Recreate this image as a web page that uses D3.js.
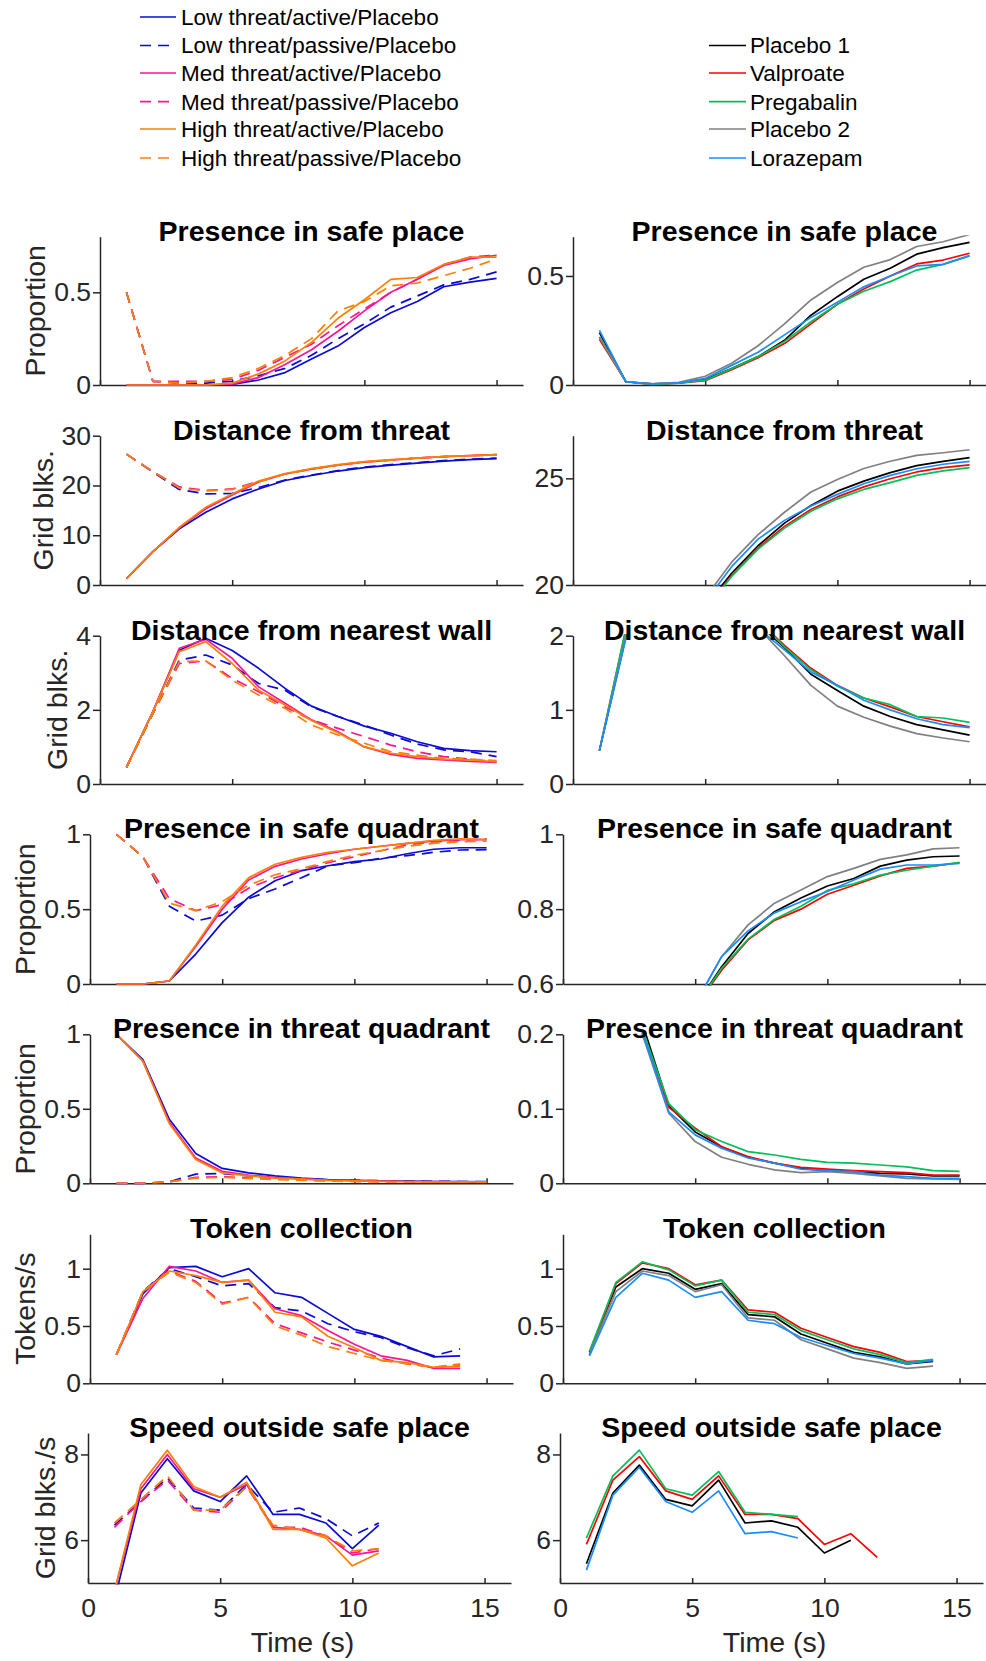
<!DOCTYPE html>
<html lang="en">
<head>
<meta charset="utf-8">
<title>Threat task behaviour by condition and drug</title>
<script src="https://d3js.org/d3.v7.min.js"></script>
<style>
  body { margin: 0; background: #fff; }
  text { font-family: "Liberation Sans", Arial, Helvetica, sans-serif; }
</style>
</head>
<body>
<script>

// ---- data ----
var timeS = [1, 2, 3, 4, 5, 6, 7, 8, 9, 10, 11, 12, 13, 14, 15];
var xTicks = [0, 5, 10, 15];

var threatSeries = ["Low threat/active/Placebo", "Low threat/passive/Placebo",
  "Med threat/active/Placebo", "Med threat/passive/Placebo",
  "High threat/active/Placebo", "High threat/passive/Placebo"];
var drugSeries = ["Placebo 1", "Valproate", "Pregabalin", "Placebo 2", "Lorazepam"];

var panelTitles = ["Presence in safe place", "Distance from threat", "Distance from nearest wall",
  "Presence in safe quadrant", "Presence in threat quadrant", "Token collection", "Speed outside safe place"];
var yLabels = ["Proportion", "Grid blks.", "Grid blks.", "Proportion", "Proportion", "Tokens/s", "Grid blks./s"];

var yDomainThreat = [[0, 0.8], [0, 30], [0, 4], [0, 1], [0, 1], [0, 1.3], [5, 8.5]];
var yDomainDrug = [[0, 0.68], [20, 27], [0, 2], [0.6, 1], [0, 0.2], [0, 1.3], [5, 8.5]];
var yTicksThreat = [[0, 0.5], [0, 10, 20, 30], [0, 2, 4], [0, 0.5, 1], [0, 0.5, 1], [0, 0.5, 1], [6, 8]];
var yTicksDrug = [[0, 0.5], [20, 25], [0, 1, 2], [0.6, 0.8, 1], [0, 0.1, 0.2], [0, 0.5, 1], [6, 8]];

// left column: rows follow threatSeries order
var safePlaceThreat = [
  [0, 0, 0, 0, 0.003, 0.027, 0.067, 0.14, 0.21, 0.31, 0.39, 0.45, 0.53, 0.555, 0.575],
  [0.5, 0.02, 0.01, 0.01, 0.02, 0.05, 0.09, 0.16, 0.25, 0.33, 0.42, 0.48, 0.54, 0.57, 0.61],
  [0, 0, 0, 0, 0.005, 0.04, 0.11, 0.19, 0.29, 0.4, 0.5, 0.57, 0.645, 0.68, 0.70],
  [0.5, 0.02, 0.02, 0.02, 0.03, 0.08, 0.15, 0.22, 0.32, 0.41, 0.5, 0.57, 0.65, 0.69, 0.70],
  [0, 0, 0, 0, 0.01, 0.06, 0.13, 0.23, 0.36, 0.46, 0.57, 0.58, 0.65, 0.69, 0.69],
  [0.5, 0.02, 0.01, 0.02, 0.04, 0.09, 0.16, 0.25, 0.4, 0.45, 0.535, 0.55, 0.59, 0.63, 0.68]
];
var distThreatThreat = [
  [1.3, 6.7, 11.3, 14.6, 17.3, 19.3, 21.0, 22.0, 22.9, 23.6, 24.1, 24.5, 24.9, 25.2, 25.4],
  [26.3, 22.7, 19.2, 18.3, 18.4, 19.6, 21.1, 22.1, 23.0, 23.7, 24.2, 24.6, 25.0, 25.3, 25.5],
  [1.3, 6.7, 11.5, 15.3, 18.1, 20.7, 22.3, 23.3, 24.1, 24.7, 25.1, 25.5, 25.8, 26.0, 26.2],
  [26.3, 22.8, 19.7, 19.0, 19.3, 20.8, 22.3, 23.3, 24.1, 24.7, 25.1, 25.5, 25.8, 26.0, 26.2],
  [1.3, 6.7, 11.6, 15.6, 18.3, 20.9, 22.4, 23.4, 24.2, 24.8, 25.2, 25.5, 25.8, 26.0, 26.2],
  [26.3, 22.8, 19.5, 18.9, 19.2, 20.7, 22.3, 23.3, 24.1, 24.7, 25.1, 25.5, 25.8, 26.0, 26.1]
];
var wallThreat = [
  [0.45, 1.95, 3.61, 3.93, 3.6, 3.12, 2.58, 2.1, 1.82, 1.56, 1.37, 1.14, 0.96, 0.9, 0.87],
  [0.45, 1.9, 3.34, 3.48, 3.21, 2.71, 2.53, 2.08, 1.82, 1.59, 1.32, 1.08, 0.92, 0.87, 0.74],
  [0.45, 1.95, 3.66, 3.9, 3.39, 2.62, 2.18, 1.73, 1.41, 1.0, 0.8, 0.69, 0.65, 0.61, 0.58],
  [0.45, 1.9, 3.25, 3.32, 2.85, 2.49, 2.08, 1.73, 1.5, 1.28, 1.05, 0.87, 0.74, 0.67, 0.6],
  [0.45, 1.95, 3.57, 3.84, 3.25, 2.53, 2.13, 1.71, 1.38, 1.0, 0.83, 0.74, 0.67, 0.65, 0.6],
  [0.45, 1.9, 3.3, 3.32, 2.8, 2.4, 2.04, 1.59, 1.32, 1.1, 0.87, 0.78, 0.69, 0.67, 0.63]
];
var safeQuadThreat = [
  [0, 0, 0.02, 0.2, 0.41, 0.58, 0.69, 0.757, 0.79, 0.817, 0.835, 0.87, 0.9, 0.91, 0.91],
  [1, 0.85, 0.52, 0.42, 0.46, 0.57, 0.635, 0.71, 0.79, 0.81, 0.84, 0.857, 0.88, 0.895, 0.897],
  [0, 0, 0.02, 0.25, 0.5, 0.695, 0.786, 0.835, 0.87, 0.9, 0.92, 0.94, 0.955, 0.965, 0.965],
  [1, 0.85, 0.57, 0.49, 0.53, 0.64, 0.71, 0.76, 0.81, 0.85, 0.89, 0.93, 0.95, 0.96, 0.97],
  [0, 0, 0.02, 0.26, 0.52, 0.71, 0.8, 0.846, 0.88, 0.9, 0.92, 0.94, 0.96, 0.97, 0.965],
  [1, 0.85, 0.54, 0.49, 0.55, 0.66, 0.73, 0.77, 0.82, 0.86, 0.89, 0.92, 0.94, 0.95, 0.955]
];
var threatQuadThreat = [
  [1, 0.83, 0.43, 0.2, 0.1, 0.07, 0.05, 0.035, 0.025, 0.02, 0.017, 0.014, 0.012, 0.011, 0.01],
  [0, 0, 0.01, 0.062, 0.066, 0.05, 0.04, 0.03, 0.024, 0.02, 0.017, 0.015, 0.013, 0.012, 0.011],
  [1, 0.82, 0.41, 0.17, 0.08, 0.055, 0.04, 0.03, 0.022, 0.018, 0.015, 0.012, 0.011, 0.01, 0.01],
  [0, 0, 0.01, 0.04, 0.045, 0.035, 0.03, 0.022, 0.017, 0.013, 0.011, 0.01, 0.009, 0.009, 0.009],
  [1, 0.82, 0.4, 0.16, 0.07, 0.05, 0.035, 0.028, 0.02, 0.016, 0.013, 0.011, 0.01, 0.01, 0.009],
  [0, 0, 0.01, 0.035, 0.04, 0.032, 0.026, 0.02, 0.015, 0.012, 0.01, 0.009, 0.008, 0.008, 0.008]
];
var tokensThreat = [
  [0.25, 0.78, 1.01, 1.02, 0.93, 1.0, 0.79, 0.75, 0.61, 0.47, 0.41, 0.32, 0.23, 0.24],
  [0.25, 0.8, 1.0, 0.93, 0.85, 0.87, 0.66, 0.63, 0.52, 0.45, 0.4, 0.31, 0.24, 0.3],
  [0.25, 0.74, 1.02, 0.98, 0.88, 0.9, 0.65, 0.59, 0.46, 0.34, 0.24, 0.2, 0.13, 0.13],
  [0.25, 0.8, 0.98, 0.89, 0.7, 0.75, 0.52, 0.44, 0.36, 0.29, 0.22, 0.17, 0.14, 0.16],
  [0.25, 0.8, 0.98, 0.94, 0.88, 0.9, 0.62, 0.58, 0.41, 0.31, 0.2, 0.18, 0.14, 0.15],
  [0.25, 0.8, 0.97, 0.88, 0.69, 0.75, 0.5, 0.42, 0.32, 0.26, 0.2, 0.17, 0.14, 0.17]
];
var speedThreat = [
  [4.6, 7.1, 7.9, 7.15, 6.9, 7.5, 6.6, 6.6, 6.4, 5.8, 6.35],
  [6.35, 6.9, 7.45, 6.75, 6.7, 7.3, 6.65, 6.75, 6.5, 6.1, 6.4],
  [4.8, 7.2, 8.0, 7.2, 7.0, 7.3, 6.3, 6.25, 6.1, 5.65, 5.75],
  [6.3, 6.9, 7.4, 6.7, 6.65, 7.25, 6.3, 6.3, 6.1, 5.7, 5.8],
  [4.8, 7.3, 8.1, 7.25, 7.0, 7.35, 6.25, 6.25, 6.05, 5.4, 5.7],
  [6.4, 6.95, 7.5, 6.7, 6.7, 7.25, 6.35, 6.25, 6.1, 5.75, 5.8]
];

// right column: rows follow drugSeries order
var safePlaceDrug = [
  [0.24, 0.015, 0.005, 0.01, 0.025, 0.075, 0.13, 0.205, 0.32, 0.405, 0.485, 0.535, 0.6, 0.63, 0.654],
  [0.21, 0.015, 0.003, 0.008, 0.02, 0.07, 0.125, 0.19, 0.28, 0.37, 0.44, 0.5, 0.555, 0.573, 0.604],
  [0.22, 0.015, 0.003, 0.008, 0.022, 0.075, 0.13, 0.2, 0.29, 0.37, 0.43, 0.474, 0.527, 0.553, 0.592],
  [0.22, 0.015, 0.005, 0.012, 0.04, 0.1, 0.18, 0.28, 0.39, 0.47, 0.54, 0.575, 0.635, 0.657, 0.69],
  [0.25, 0.015, 0.005, 0.01, 0.03, 0.09, 0.15, 0.23, 0.31, 0.38, 0.45, 0.5, 0.546, 0.553, 0.593]
];
var distThreatDrug = [
  [13.6, 14.6, 15.4, 16.9, 19.0, 20.55, 21.84, 22.9, 23.73, 24.4, 24.87, 25.27, 25.6, 25.8, 25.97],
  [13.4, 14.5, 15.2, 16.8, 18.9, 20.44, 21.73, 22.75, 23.54, 24.13, 24.6, 24.98, 25.3, 25.5, 25.63],
  [13.4, 14.4, 15.2, 16.7, 18.85, 20.4, 21.68, 22.67, 23.46, 24.04, 24.48, 24.8, 25.14, 25.35, 25.5],
  [13.8, 14.8, 15.6, 17.2, 19.4, 21.07, 22.36, 23.41, 24.36, 24.95, 25.46, 25.8, 26.08, 26.2, 26.34],
  [13.7, 14.7, 15.5, 17.1, 19.2, 20.86, 22.15, 23.03, 23.7, 24.25, 24.75, 25.14, 25.45, 25.66, 25.8]
];
var wallDrug = [
  [0.45, 1.99, 3.5, 3.8, 3.3, 2.7, 2.16, 1.84, 1.48, 1.26, 1.05, 0.91, 0.8, 0.73, 0.66],
  [0.45, 2.08, 3.6, 3.9, 3.4, 2.8, 2.2, 1.87, 1.56, 1.33, 1.16, 1.04, 0.91, 0.84, 0.77],
  [0.45, 2.1, 3.6, 3.9, 3.4, 2.8, 2.2, 1.85, 1.54, 1.32, 1.16, 1.07, 0.91, 0.89, 0.83],
  [0.45, 2.02, 3.5, 3.7, 3.2, 2.6, 2.11, 1.73, 1.33, 1.05, 0.9, 0.78, 0.68, 0.62, 0.57],
  [0.45, 1.96, 3.5, 3.8, 3.3, 2.7, 2.1, 1.81, 1.51, 1.33, 1.13, 1.0, 0.88, 0.8, 0.76]
];
var safeQuadDrug = [
  [0.5, 0.43, 0.29, 0.36, 0.54, 0.646, 0.735, 0.793, 0.83, 0.862, 0.882, 0.915, 0.931, 0.94, 0.942],
  [0.5, 0.43, 0.29, 0.36, 0.538, 0.637, 0.718, 0.77, 0.8, 0.84, 0.864, 0.889, 0.909, 0.915, 0.924],
  [0.5, 0.43, 0.29, 0.36, 0.54, 0.642, 0.72, 0.773, 0.808, 0.85, 0.868, 0.891, 0.904, 0.915, 0.925],
  [0.5, 0.43, 0.29, 0.37, 0.547, 0.673, 0.758, 0.816, 0.851, 0.887, 0.909, 0.933, 0.945, 0.961, 0.964],
  [0.5, 0.43, 0.29, 0.37, 0.547, 0.673, 0.742, 0.79, 0.82, 0.847, 0.878, 0.907, 0.918, 0.918, 0.922]
];
var threatQuadDrug = [
  [0.5, 0.41, 0.215, 0.104, 0.069, 0.049, 0.035, 0.027, 0.02, 0.017, 0.0157, 0.0134, 0.0125, 0.01, 0.01],
  [0.5, 0.41, 0.205, 0.102, 0.074, 0.049, 0.036, 0.027, 0.0215, 0.019, 0.017, 0.0157, 0.0143, 0.011, 0.011],
  [0.5, 0.41, 0.207, 0.107, 0.072, 0.056, 0.0425, 0.038, 0.032, 0.028, 0.027, 0.0246, 0.022, 0.017, 0.016],
  [0.5, 0.41, 0.2, 0.094, 0.056, 0.035, 0.0255, 0.018, 0.0143, 0.0157, 0.0134, 0.01, 0.0067, 0.0058, 0.0054],
  [0.5, 0.41, 0.203, 0.096, 0.065, 0.047, 0.034, 0.027, 0.019, 0.017, 0.0157, 0.011, 0.009, 0.0067, 0.0067]
];
var tokensDrug = [
  [0.27, 0.84, 1.0, 0.96, 0.82, 0.87, 0.6, 0.58, 0.43, 0.35, 0.27, 0.23, 0.17, 0.19],
  [0.25, 0.87, 1.05, 1.0, 0.86, 0.9, 0.64, 0.62, 0.48, 0.4, 0.32, 0.27, 0.19, 0.2],
  [0.28, 0.88, 1.06, 0.99, 0.85, 0.9, 0.62, 0.6, 0.46, 0.38, 0.3, 0.25, 0.18, 0.21],
  [0.25, 0.8, 0.98, 0.94, 0.8, 0.86, 0.57, 0.55, 0.38, 0.3, 0.22, 0.18, 0.13, 0.15],
  [0.24, 0.75, 0.96, 0.9, 0.75, 0.8, 0.55, 0.52, 0.4, 0.33, 0.26, 0.22, 0.17, 0.2]
];
var speedDrug = [
  [5.45, 7.1, 7.75, 6.95, 6.8, 7.4, 6.4, 6.45, 6.3, 5.7, 6.0],
  [5.9, 7.4, 7.95, 7.15, 6.95, 7.5, 6.6, 6.6, 6.5, 5.9, 6.15, 5.6],
  [6.05, 7.5, 8.1, 7.2, 7.05, 7.6, 6.65, 6.6, 6.55],
  [],
  [5.3, 7.05, 7.7, 6.9, 6.65, 7.15, 6.15, 6.2, 6.05]
];

var threatPanels = [safePlaceThreat, distThreatThreat, wallThreat, safeQuadThreat, threatQuadThreat, tokensThreat, speedThreat];
var drugPanels = [safePlaceDrug, distThreatDrug, wallDrug, safeQuadDrug, threatQuadDrug, tokensDrug, speedDrug];

// ---- styles / layout ----
var threatColors = ["#0a0ad8", "#0a0ad8", "#ff1493", "#ff1493", "#ff8000", "#ff8000"];
var threatDashed = [false, true, false, true, false, true];
var drugColors = ["#000000", "#ff0000", "#00c05a", "#808080", "#1a8cff"];

var w = 986, h = 1661;
var axisLen = 423;
var rowTop = [236.7, 435.7, 635.7, 834.3, 1034.3, 1234.3, 1433];
var rowBottom = [385, 585, 784, 984, 1183.3, 1383.3, 1583];
var leftX0 = [100, 100, 100, 90, 90, 90, 88];
var rightX0 = [573, 573, 573, 563, 563, 563, 560];
var dashStyle = "11,7";
var axisColor = "#262626";

var svg = d3.select("body")
  .append("svg")
  .attr("width", w)
  .attr("height", h);

function drawPanel(id, x0, top, bottom, yDomain, yTicks, data, colors, dashed, title, ylabel, isBottom) {
  var x = d3.scaleLinear().domain([0, 16]).range([x0, x0 + axisLen]);
  var y = d3.scaleLinear().domain(yDomain).range([bottom, top]);
  var g = svg.append("g");

  // axes (MATLAB style: left + bottom only)
  var yAxis = d3.axisLeft(y)
    .tickValues(yTicks)
    .tickFormat(d => String(d))
    .tickSize(7)
    .tickSizeOuter(0)
    .tickPadding(2);
  var gy = g.append("g")
    .attr("transform", `translate(${x0},0)`)
    .call(yAxis);

  var xAxis = d3.axisBottom(x)
    .tickValues(xTicks)
    .tickSize(-5)
    .tickSizeOuter(0)
    .tickPadding(15);
  if (!isBottom) xAxis.tickFormat("");
  var gx = g.append("g")
    .attr("transform", `translate(0,${bottom})`)
    .call(xAxis);

  [gy, gx].forEach(function (a) {
    a.attr("font-family", null).attr("font-size", null);
    a.selectAll("path, line").attr("stroke", axisColor).attr("stroke-width", 1.5);
    a.selectAll("text").attr("fill", axisColor).style("font-size", "26.5px");
  });

  // lines, clipped to the axes box
  var clipId = "clip" + id;
  g.append("clipPath").attr("id", clipId)
    .append("rect")
    .attr("x", x0)
    .attr("y", top - 1.5)
    .attr("width", axisLen)
    .attr("height", bottom - top + 3);

  var line = d3.line()
    .x((d, i) => x(timeS[i]))
    .y(d => y(d));

  g.append("g")
    .attr("clip-path", `url(#${clipId})`)
    .selectAll("path")
    .data(data)
    .enter()
    .append("path")
    .attr("d", d => d.length ? line(d) : null)
    .attr("fill", "none")
    .attr("stroke", (d, i) => colors[i])
    .attr("stroke-width", 1.7)
    .attr("stroke-linejoin", "round")
    .attr("stroke-dasharray", (d, i) => dashed && dashed[i] ? dashStyle : null);

  // title
  g.append("text")
    .attr("x", x0 + axisLen / 2)
    .attr("y", top + 4)
    .attr("text-anchor", "middle")
    .style("font-size", "28.5px")
    .style("font-weight", "bold")
    .attr("fill", "#000")
    .text(title);

  // y label sits left of the widest tick label
  if (ylabel) {
    var minX = d3.min(gy.selectAll(".tick text").nodes(), n => n.getBBox().x) + x0;
    g.append("text")
      .attr("transform", `translate(${minX - 9},${(top + bottom) / 2}) rotate(-90)`)
      .attr("text-anchor", "middle")
      .style("font-size", "28.5px")
      .attr("fill", axisColor)
      .text(ylabel);
  }

  if (isBottom) {
    g.append("text")
      .attr("x", x0 + axisLen / 2 + 3)
      .attr("y", 1652)
      .attr("text-anchor", "middle")
      .style("font-size", "28.5px")
      .attr("fill", axisColor)
      .text("Time (s)");
  }
}

for (var r = 0; r < 7; r++) {
  drawPanel("L" + r, leftX0[r], rowTop[r], rowBottom[r], yDomainThreat[r], yTicksThreat[r],
    threatPanels[r], threatColors, threatDashed, panelTitles[r], yLabels[r], r === 6);
  drawPanel("R" + r, rightX0[r], rowTop[r], rowBottom[r], yDomainDrug[r], yTicksDrug[r],
    drugPanels[r], drugColors, null, panelTitles[r], null, r === 6);
}

// legends
var legendRows = [17, 45.5, 73, 101.7, 129, 158];

var legL = svg.append("g").selectAll("g")
  .data(threatSeries)
  .enter()
  .append("g")
  .attr("transform", (d, i) => `translate(0,${legendRows[i]})`);
legL.append("line")
  .attr("x1", 140).attr("x2", 176)
  .attr("stroke", (d, i) => threatColors[i])
  .attr("stroke-width", 1.7)
  .attr("stroke-dasharray", (d, i) => threatDashed[i] ? dashStyle : null);
legL.append("text")
  .attr("x", 181)
  .attr("dy", "0.35em")
  .style("font-size", "22.5px")
  .text(d => d);

var legR = svg.append("g").selectAll("g")
  .data(drugSeries)
  .enter()
  .append("g")
  .attr("transform", (d, i) => `translate(0,${legendRows[i + 1]})`);
legR.append("line")
  .attr("x1", 709).attr("x2", 746)
  .attr("stroke", (d, i) => drugColors[i])
  .attr("stroke-width", 1.7);
legR.append("text")
  .attr("x", 750)
  .attr("dy", "0.35em")
  .style("font-size", "22.5px")
  .text(d => d);

</script>
</body>
</html>
